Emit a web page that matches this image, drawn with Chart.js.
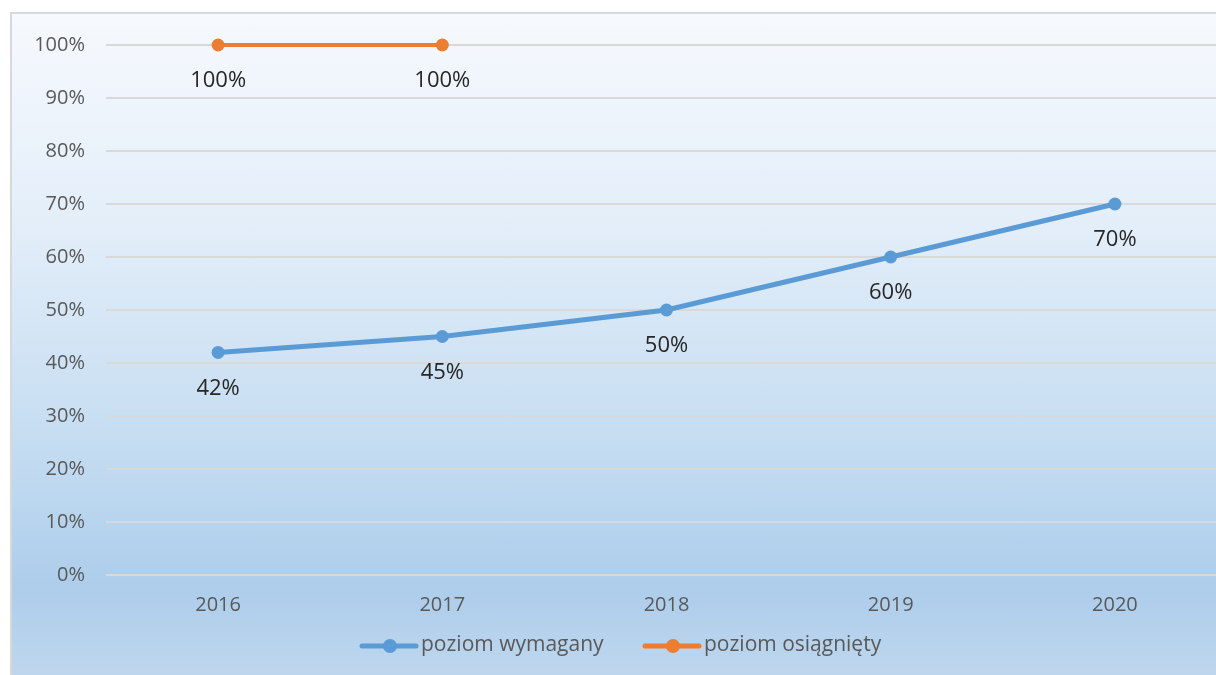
<!DOCTYPE html>
<html>
<head>
<meta charset="utf-8">
<script src="https://cdn.jsdelivr.net/npm/chart.js@4"></script>
<style>
    html, body { margin: 0; padding: 0; background: #fff; overflow: hidden; width: 1216px; height: 675px; }
    #frame {
        position: absolute; left: 10px; top: 12px; width: 1240px; height: 700px;
        border: 2px solid #d6d9d8;
        background: linear-gradient(to bottom, #f6f9fd 0%, #e3eef9 30%, #c4dcf1 62%, #adcdeb 82%, #c6dbef 100%);
    }
    #wrap { position: absolute; left: 0; top: 0; width: 1240px; height: 675px; }
</style>
</head>
<body>
<div id="frame"></div>
<div id="wrap"><canvas id="line-chart" width="1240" height="675"></canvas></div>
<script>
const years = ['2016', '2017', '2018', '2019', '2020'];
const requiredLevel = [42, 45, 50, 60, 70];
const achievedLevel = [100, 100, null, null, null];
const yTicks = [0, 10, 20, 30, 40, 50, 60, 70, 80, 90, 100];

const fontFamily = "'Open Sans', 'Liberation Sans', sans-serif";

// value labels under every point
const pointLabels = {
    id: 'pointLabels',
    afterDatasetsDraw(chart) {
        const ctx = chart.ctx;
        ctx.save();
        ctx.font = '22px ' + fontFamily;
        ctx.fillStyle = '#262626';
        ctx.textAlign = 'center';
        ctx.textBaseline = 'middle';
        chart.data.datasets.forEach((ds, i) => {
            chart.getDatasetMeta(i).data.forEach((pt, j) => {
                if (ds.data[j] == null) return;
                ctx.fillText(ds.data[j] + '%', pt.x, pt.y + 36);
            });
        });
        ctx.restore();
    }
};

// legend drawn as line + marker like the original
const lineLegend = {
    id: 'lineLegend',
    afterDraw(chart) {
        const ctx = chart.ctx;
        const starts = [362, 645];
        ctx.save();
        ctx.font = '21px ' + fontFamily;
        ctx.textBaseline = 'middle';
        chart.data.datasets.forEach((ds, i) => {
            const x = starts[i], y = 646;
            ctx.strokeStyle = ds.borderColor;
            ctx.lineWidth = 5;
            ctx.lineCap = 'round';
            ctx.beginPath();
            ctx.moveTo(x, y);
            ctx.lineTo(x + 54, y);
            ctx.stroke();
            ctx.fillStyle = ds.borderColor;
            ctx.beginPath();
            ctx.arc(x + 28, y, 7, 0, Math.PI * 2);
            ctx.fill();
            ctx.fillStyle = '#595959';
            ctx.fillText(ds.label, x + 59, y - 1);
        });
        ctx.restore();
    }
};

new Chart(document.getElementById('line-chart'), {
    type: 'line',
    data: {
        labels: years,
        datasets: [{
            label: 'poziom wymagany',
            data: requiredLevel,
            borderColor: '#5b9bd5',
            backgroundColor: '#5b9bd5',
            borderWidth: 5,
            pointRadius: 6.5,
            pointBorderWidth: 0,
            tension: 0,
            clip: false
        }, {
            label: 'poziom osiągnięty',
            data: achievedLevel,
            borderColor: '#ed7d31',
            backgroundColor: '#ed7d31',
            borderWidth: 4,
            pointRadius: 6.5,
            pointBorderWidth: 0,
            tension: 0,
            clip: false
        }]
    },
    options: {
        responsive: false,
        animation: false,
        devicePixelRatio: 1,
        layout: { padding: { top: 45, right: 13, left: 0, bottom: 0 } },
        plugins: {
            legend: { display: false },
            tooltip: { enabled: false }
        },
        scales: {
            x: {
                offset: true,
                grid: { display: false, drawTicks: false, offset: true },
                border: { display: false },
                ticks: { color: '#595959', font: { size: 20, family: fontFamily }, padding: 18 },
                afterFit: scale => { scale.height = 100; }
            },
            y: {
                min: 0,
                max: 100,
                afterBuildTicks: scale => { scale.ticks = yTicks.map(v => ({ value: v })); },
                grid: { color: '#d9d9d9', lineWidth: 2, drawTicks: false },
                border: { display: false },
                ticks: {
                    color: '#595959',
                    font: { size: 20, family: fontFamily },
                    padding: 21,
                    callback: v => v + '%'
                },
                afterFit: scale => { scale.width = 106; }
            }
        }
    },
    plugins: [pointLabels, lineLegend]
});
</script>
</body>
</html>
